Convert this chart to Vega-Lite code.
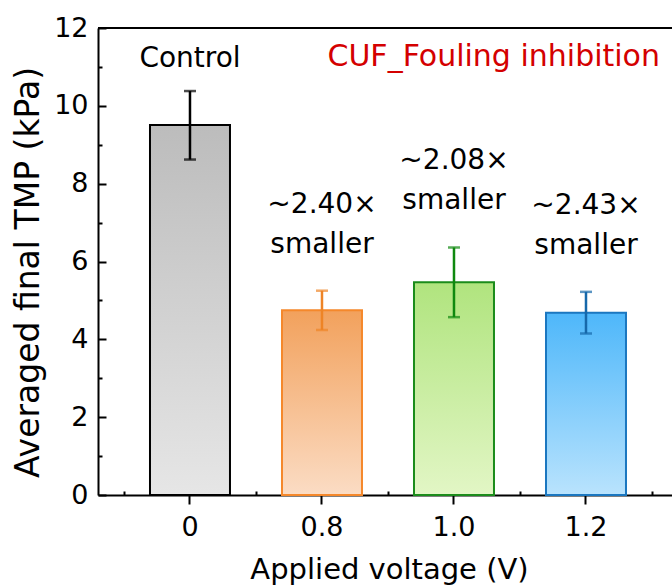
{
  "$schema": "https://vega.github.io/schema/vega-lite/v6.json",
  "width": 574,
  "height": 467,
  "autosize": {"type": "none"},
  "padding": {"left": 98, "top": 28, "right": 0, "bottom": 93},
  "background": "white",
  "config": {
    "view": {"stroke": null},
    "font": "DejaVu Sans",
    "axis": {"grid": false, "domainColor": "#000000", "tickColor": "#000000", "labelColor": "#000000", "titleColor": "#000000", "labelFont": "DejaVu Sans", "titleFont": "DejaVu Sans", "titleFontWeight": "normal"}
  },
  "title": {
    "text": "CUF_Fouling inhibition",
    "anchor": "end",
    "frame": "group",
    "orient": "top",
    "offset": -58,
    "dx": -12,
    "color": "#d40000",
    "font": "DejaVu Sans",
    "fontSize": 30,
    "fontWeight": "normal"
  },
  "data": {
    "values": [
      {"v": "0", "mean": 9.51, "lo": 8.62, "hi": 10.38, "label": "Control"},
      {"v": "0.8", "mean": 4.75, "lo": 4.24, "hi": 5.25, "label": "~2.40×\nsmaller"},
      {"v": "1.0", "mean": 5.47, "lo": 4.57, "hi": 6.36, "label": "~2.08×\nsmaller"},
      {"v": "1.2", "mean": 4.68, "lo": 4.15, "hi": 5.22, "label": "~2.43×\nsmaller"}
    ]
  },
  "layer": [
    {
      "transform": [{"filter": "datum.v == '0'"}],
      "mark": {"type": "bar", "width": {"band": 0.606}, "stroke": "#000000", "strokeWidth": 2,
        "fill": {"gradient": "linear", "x1": 0, "y1": 0, "x2": 0, "y2": 1, "stops": [{"offset": 0, "color": "#bcbcbc"}, {"offset": 1, "color": "#e6e6e6"}]}},
      "encoding": {
        "x": {"field": "v", "type": "ordinal",
          "scale": {"type": "band", "domain": ["0", "0.8", "1.0", "1.2"], "paddingInner": 0, "paddingOuter": 0.1742, "align": 0.565},
          "axis": {"orient": "bottom", "title": "Applied voltage (V)", "titleFontSize": 29, "titlePadding": 15, "titleX": 291, "labelFontSize": 27, "labelPadding": 10, "labelAngle": 0, "tickSize": 9, "tickWidth": 2, "domainWidth": 2}},
        "y": {"field": "mean", "type": "quantitative", "scale": {"domain": [0, 12], "nice": false, "zero": true},
          "axis": {"orient": "left", "values": [0, 2, 4, 6, 8, 10, 12], "tickSize": -8, "tickWidth": 2, "domainWidth": 2, "labelPadding": 18, "labelFontSize": 27, "title": "Averaged final TMP (kPa)", "titleFontSize": 33, "titlePadding": 8, "titleY": 244}}
      }
    },
    {
      "transform": [{"filter": "datum.v == '0.8'"}],
      "mark": {"type": "bar", "width": {"band": 0.606}, "stroke": "#f5882b", "strokeWidth": 2,
        "fill": {"gradient": "linear", "x1": 0, "y1": 0, "x2": 0, "y2": 1, "stops": [{"offset": 0, "color": "#f2a15c"}, {"offset": 1, "color": "#fbdcc4"}]}},
      "encoding": {
        "x": {"field": "v", "type": "ordinal", "axis": null},
        "y": {"field": "mean", "type": "quantitative", "axis": null}
      }
    },
    {
      "transform": [{"filter": "datum.v == '1.0'"}],
      "mark": {"type": "bar", "width": {"band": 0.606}, "stroke": "#1b8c1b", "strokeWidth": 2,
        "fill": {"gradient": "linear", "x1": 0, "y1": 0, "x2": 0, "y2": 1, "stops": [{"offset": 0, "color": "#b0e47e"}, {"offset": 1, "color": "#e2f6c5"}]}},
      "encoding": {
        "x": {"field": "v", "type": "ordinal", "axis": null},
        "y": {"field": "mean", "type": "quantitative", "axis": null}
      }
    },
    {
      "transform": [{"filter": "datum.v == '1.2'"}],
      "mark": {"type": "bar", "width": {"band": 0.606}, "stroke": "#1b77c0", "strokeWidth": 2,
        "fill": {"gradient": "linear", "x1": 0, "y1": 0, "x2": 0, "y2": 1, "stops": [{"offset": 0, "color": "#4eb7fa"}, {"offset": 1, "color": "#b9e3fd"}]}},
      "encoding": {
        "x": {"field": "v", "type": "ordinal", "axis": null},
        "y": {"field": "mean", "type": "quantitative", "axis": null}
      }
    },
    {
      "mark": {"type": "rule", "strokeWidth": 2.5},
      "encoding": {
        "x": {"field": "v", "type": "ordinal", "axis": {"orient": "bottom", "tickBand": "extent", "tickSize": -4, "tickWidth": 2, "labels": false, "domain": false, "title": null}},
        "y": {"field": "lo", "type": "quantitative", "axis": {"orient": "left", "values": [1, 3, 5, 7, 9, 11], "tickSize": -4, "tickWidth": 2, "labels": false, "domain": false, "title": null}},
        "y2": {"field": "hi"},
        "color": {"field": "v", "type": "nominal", "scale": {"domain": ["0", "0.8", "1.0", "1.2"], "range": ["#000000", "#ee8426", "#0f890f", "#1668aa"]}, "legend": null}
      }
    },
    {
      "mark": {"type": "tick", "size": 12, "thickness": 2.5},
      "encoding": {
        "x": {"field": "v", "type": "ordinal", "axis": null},
        "y": {"field": "lo", "type": "quantitative", "axis": null},
        "color": {"field": "v", "type": "nominal", "legend": null}
      }
    },
    {
      "mark": {"type": "tick", "size": 12, "thickness": 2.5},
      "encoding": {
        "x": {"field": "v", "type": "ordinal", "axis": null},
        "y": {"field": "hi", "type": "quantitative", "axis": null},
        "color": {"field": "v", "type": "nominal", "legend": null}
      }
    },
    {
      "mark": {"type": "rule", "color": "#000000", "strokeWidth": 2},
      "encoding": {
        "y": {"datum": 12, "type": "quantitative", "axis": null}
      }
    },
    {
      "transform": [{"filter": "datum.v == '0'"}],
      "mark": {"type": "text", "baseline": "alphabetic", "dy": -24, "fontSize": 28, "color": "#000000"},
      "encoding": {
        "x": {"field": "v", "type": "ordinal", "axis": null},
        "y": {"field": "hi", "type": "quantitative", "axis": null},
        "text": {"field": "label"}
      }
    },
    {
      "transform": [{"filter": "datum.v != '0'"}],
      "mark": {"type": "text", "baseline": "alphabetic", "dy": -78, "lineBreak": "\n", "lineHeight": 40, "fontSize": 28, "color": "#000000"},
      "encoding": {
        "x": {"field": "v", "type": "ordinal", "axis": null},
        "y": {"field": "hi", "type": "quantitative", "axis": null},
        "text": {"field": "label"}
      }
    }
  ],
  "resolve": {"axis": {"x": "independent", "y": "independent"}}
}
